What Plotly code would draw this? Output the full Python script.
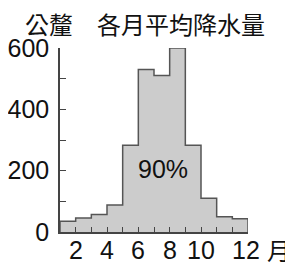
import plotly.graph_objects as go

months = list(range(1, 13))
rain_mm = [35, 46, 57, 88, 283, 530, 510, 600, 283, 110, 50, 43]
y_tick_vals = [0, 200, 400, 600]
y_tick_text = ["0", "200", "400", "600"]
y_minor_vals = [100, 300, 500]
x_tick_vals = [2, 4, 6, 8, 10, 12]
x_tick_text = ["2", "4", "6", "8", "10", "12"]
x_minor_vals = [3, 5, 7, 9, 11]
unit_label = "公釐"
title_text = "各月平均降水量"
x_unit = "月"
share_label = "90%"
share_pos = (7.55, 205)

# step outline: month m spans [m, m+1]
xs = [months[0]] + months + [months[-1] + 1, months[-1] + 1]
ys = [0] + rain_mm + [rain_mm[-1], 0]

AX = "#444444"
TXT = "#111111"
NUM_FONT = "Liberation Sans, Arial, sans-serif"
CJK_FONT = "Noto Sans CJK TC, Noto Sans CJK SC, sans-serif"

fig = go.Figure()
fig.add_trace(go.Scatter(
    x=xs, y=ys, mode="lines", line=dict(shape="hv", color="#555555", width=1.5),
    fill="tozeroy", fillcolor="#cccccc", hoverinfo="skip", showlegend=False))

fig.add_annotation(x=share_pos[0], y=share_pos[1], text=share_label, showarrow=False,
                   font=dict(family=NUM_FONT, size=25, color=TXT))

# x tick labels (last label sits a little right of its tick, as in the source)
for i, (v, t) in enumerate(zip(x_tick_vals, x_tick_text)):
    fig.add_annotation(x=v, xref="x", y=0, yref="paper", text=t, showarrow=False,
                       xanchor="center", yanchor="middle", yshift=-17.5,
                       xshift=14 if i == len(x_tick_vals) - 1 else 0,
                       font=dict(family=NUM_FONT, size=25, color=TXT))

fig.add_annotation(xref="paper", yref="paper", x=-0.197, y=1.0, yshift=25, text=unit_label,
                   showarrow=False, xanchor="left", yanchor="middle",
                   font=dict(family=CJK_FONT, size=24, color=TXT))
fig.add_annotation(xref="paper", yref="paper", x=0.646, y=1.0, yshift=25, text=title_text,
                   showarrow=False, xanchor="center", yanchor="middle",
                   font=dict(family=CJK_FONT, size=24, color=TXT))
fig.add_annotation(xref="paper", yref="paper", x=1.0, y=0, xshift=31, yshift=-17.5, text=x_unit,
                   showarrow=False, xanchor="center", yanchor="middle",
                   font=dict(family=CJK_FONT, size=24, color=TXT))

# the page body keeps an 8px margin, so the figure is drawn 8px smaller
fig.update_layout(
    width=285, height=254, margin=dict(l=52, r=45, t=40, b=29.5, autoexpand=False),
    plot_bgcolor="white", paper_bgcolor="white", showlegend=False,
    xaxis=dict(range=[1, 13], showgrid=False, zeroline=False, showline=True,
               automargin=False, showticklabels=False,
               linecolor=AX, linewidth=1.5, ticks="inside", ticklen=5, tickcolor=AX,
               tickwidth=1.2, tickvals=x_tick_vals,
               minor=dict(tickvals=x_minor_vals, ticks="inside", ticklen=5,
                          tickcolor=AX, tickwidth=1.2)),
    yaxis=dict(range=[0, 600], showgrid=False, zeroline=False, showline=True,
               automargin=False,
               linecolor=AX, linewidth=1.5, ticks="inside", ticklen=6, tickcolor=AX,
               tickwidth=1.2, tickvals=y_tick_vals, ticktext=y_tick_text,
               ticklabelstandoff=4,
               minor=dict(tickvals=y_minor_vals, ticks="inside", ticklen=6,
                          tickcolor=AX, tickwidth=1.2),
               tickfont=dict(family=NUM_FONT, size=25, color=TXT)),
)
fig.write_html("out.html")
